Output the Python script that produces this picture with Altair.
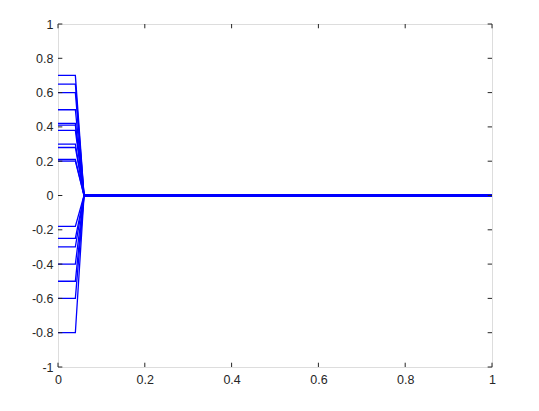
import altair as alt
import pandas as pd

# starting values of each curve
start_values = [0.70, 0.65, 0.60, 0.50, 0.42, 0.41, 0.38, 0.30, 0.28, 0.21, 0.20,
                -0.18, -0.25, -0.30, -0.40, -0.50, -0.60, -0.80]
# x knots of each curve: flat, then drop to zero, then zero to the end
x_knots = [0.0, 0.04, 0.06, 1.0]
x_ticks = [0, 0.2, 0.4, 0.6, 0.8, 1]
y_ticks = [-1, -0.8, -0.6, -0.4, -0.2, 0, 0.2, 0.4, 0.6, 0.8, 1]

rows = []
for s, v in enumerate(start_values):
    ys = [v, v, 0.0, 0.0]
    for i, (xx, yy) in enumerate(zip(x_knots, ys)):
        rows.append({"series": s, "i": i, "x": xx, "y": yy})
df = pd.DataFrame(rows)

FONT = "Liberation Sans"
AX = "#262626"
FS = 12.5
label_expr = "replace(format(datum.value, '~g'), '\u2212', '-')"

xscale = alt.Scale(domain=[0, 1], nice=False, zero=False)
yscale = alt.Scale(domain=[-1, 1], nice=False, zero=False)

axis_common = dict(labelExpr=label_expr, title=None, ticks=False,
                   domain=False, grid=False, labelFont=FONT, labelFontSize=FS,
                   labelColor=AX, labelFlush=False, labelOverlap=False)
XAX = alt.Axis(values=x_ticks, labelPadding=6, **axis_common)
YAX = alt.Axis(values=y_ticks, labelPadding=5, **axis_common)

lines = alt.Chart(df).mark_line(color="#0000ff", strokeWidth=1.3, clip=True).encode(
    x=alt.X("x:Q", scale=xscale, axis=XAX),
    y=alt.Y("y:Q", scale=yscale, axis=YAX),
    detail="series:N",
    order="i:Q",
)

# inward ticks on all four sides
tx = pd.DataFrame({"t": x_ticks})
ty = pd.DataFrame({"t": y_ticks})
tick_style = dict(color=AX, strokeWidth=1)

bottom_ticks = alt.Chart(tx).mark_rule(**tick_style).encode(
    x=alt.X("t:Q", scale=xscale, axis=XAX),
    y=alt.YDatum(-1, scale=yscale, axis=YAX), y2=alt.datum(-0.975))
top_ticks = alt.Chart(tx).mark_rule(**tick_style).encode(
    x=alt.X("t:Q", scale=xscale, axis=XAX),
    y=alt.YDatum(1, scale=yscale, axis=YAX), y2=alt.datum(0.975))
left_ticks = alt.Chart(ty).mark_rule(**tick_style).encode(
    y=alt.Y("t:Q", scale=yscale, axis=YAX),
    x=alt.XDatum(0, scale=xscale, axis=XAX), x2=alt.datum(0.01))
right_ticks = alt.Chart(ty).mark_rule(**tick_style).encode(
    y=alt.Y("t:Q", scale=yscale, axis=YAX),
    x=alt.XDatum(1, scale=xscale, axis=XAX), x2=alt.datum(0.99))

chart = alt.layer(lines, bottom_ticks, top_ticks, left_ticks, right_ticks).properties(
    width=434, height=343,
    autosize=alt.AutoSizeParams(type="none"),
    padding={"left": 50, "top": 16, "right": 39, "bottom": 44},
).configure_axis(
    labelFontSize=FS, labelFont=FONT, labelColor=AX
).configure_view(
    stroke=AX, strokeWidth=1, fill="white"
).configure(
    background="white",
    style={"guide-label": {"fontSize": FS, "font": FONT, "fill": AX}},
)

chart.save("out.html", embed_options={"renderer": "svg", "actions": False})
